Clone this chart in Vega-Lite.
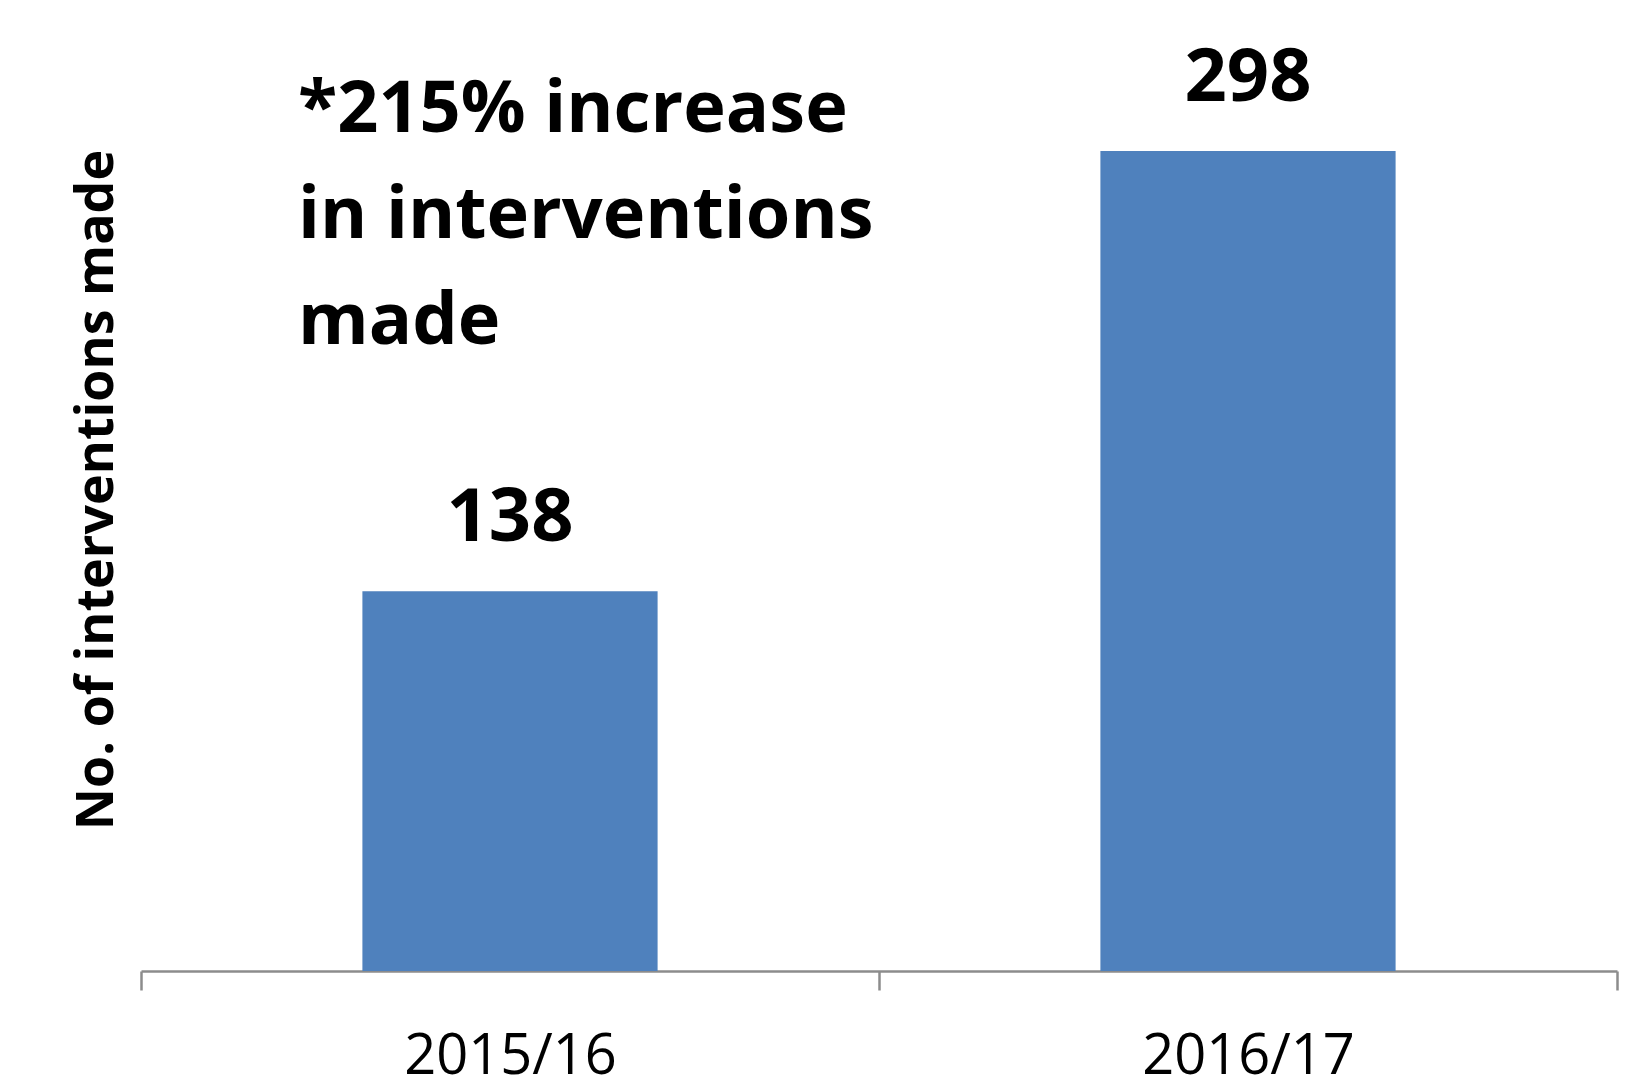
{
  "$schema": "https://vega.github.io/schema/vega-lite/v6.json",
  "width": 1476,
  "height": 963,
  "autosize": {"type": "none"},
  "padding": {"left": 141, "top": 8, "right": 29, "bottom": 104},
  "background": "white",
  "config": {"view": {"stroke": null}, "font": "Open Sans"},
  "data": {"values": [{"year": "2015/16", "count": 138}, {"year": "2016/17", "count": 298}]},
  "encoding": {
    "x": {
      "field": "year", "type": "nominal",
      "scale": {"paddingInner": 0, "paddingOuter": 0},
      "axis": {
        "title": null, "labelAngle": 0, "tickBand": "extent", "labelLimit": 0,
        "domainColor": "#8c8c8c", "domainWidth": 2.5,
        "tickColor": "#8c8c8c", "tickWidth": 2.5, "tickSize": 19,
        "labelFontSize": 56, "labelFont": "Open Sans", "labelColor": "#000000",
        "labelPadding": 39, "labelBaseline": "top"
      }
    },
    "y": {
      "field": "count", "type": "quantitative",
      "scale": {"domain": [0, 350]},
      "axis": {
        "title": "No. of interventions made", "labels": false, "ticks": false,
        "domain": false, "grid": false,
        "titleFontSize": 52, "titleFont": "Open Sans", "titleFontWeight": "bold",
        "titleColor": "#000000", "titlePadding": 18
      }
    }
  },
  "layer": [
    {"mark": {"type": "bar", "color": "#4f81bd", "width": {"band": 0.4}}},
    {
      "mark": {"type": "text", "baseline": "alphabetic", "dy": -50, "fontSize": 74, "fontWeight": "bold", "color": "#000000"},
      "encoding": {"text": {"field": "count", "type": "quantitative"}}
    },
    {
      "data": {"values": [{"year": "2015/16", "count": 305, "note": "*215% increase\nin interventions\nmade"}]},
      "mark": {"type": "text", "align": "left", "baseline": "alphabetic", "dx": -212, "fontSize": 72, "fontWeight": "bold", "lineBreak": "\n", "lineHeight": 106, "color": "#000000"},
      "encoding": {"text": {"field": "note", "type": "nominal"}}
    }
  ]
}
